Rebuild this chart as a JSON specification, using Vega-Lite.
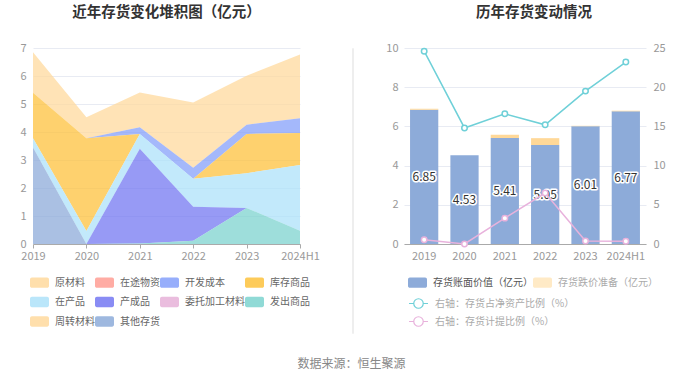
{
  "$schema": "https://vega.github.io/schema/vega-lite/v6.json",
  "background": "white",
  "padding": {"left": 8, "top": 4, "right": 5, "bottom": 5},
  "config": {"font": "Noto Sans CJK SC", "view": {"stroke": null}},
  "title": {"text": "数据来源：恒生聚源", "orient": "bottom", "anchor": "middle", "dx": 15, "fontSize": 12, "fontWeight": "normal", "color": "#888888", "offset": 25},
  "datasets": {
    "inv": [
      {"y": "2019", "s": "原材料", "v": 1.45}, {"y": "2020", "s": "原材料", "v": 0.75}, {"y": "2021", "s": "原材料", "v": 1.24}, {"y": "2022", "s": "原材料", "v": 2.33}, {"y": "2023", "s": "原材料", "v": 1.75}, {"y": "2024H1", "s": "原材料", "v": 2.28},
      {"y": "2019", "s": "开发成本", "v": 0}, {"y": "2020", "s": "开发成本", "v": 0}, {"y": "2021", "s": "开发成本", "v": 0.24}, {"y": "2022", "s": "开发成本", "v": 0.39}, {"y": "2023", "s": "开发成本", "v": 0.33}, {"y": "2024H1", "s": "开发成本", "v": 0.53},
      {"y": "2019", "s": "库存商品", "v": 1.62}, {"y": "2020", "s": "库存商品", "v": 3.32}, {"y": "2021", "s": "库存商品", "v": 0}, {"y": "2022", "s": "库存商品", "v": 0}, {"y": "2023", "s": "库存商品", "v": 1.40}, {"y": "2024H1", "s": "库存商品", "v": 1.14},
      {"y": "2019", "s": "在产品", "v": 0.33}, {"y": "2020", "s": "在产品", "v": 0.46}, {"y": "2021", "s": "在产品", "v": 0.53}, {"y": "2022", "s": "在产品", "v": 1.00}, {"y": "2023", "s": "在产品", "v": 1.24}, {"y": "2024H1", "s": "在产品", "v": 2.35},
      {"y": "2019", "s": "产成品", "v": 0}, {"y": "2020", "s": "产成品", "v": 0}, {"y": "2021", "s": "产成品", "v": 3.38}, {"y": "2022", "s": "产成品", "v": 1.21}, {"y": "2023", "s": "产成品", "v": 0}, {"y": "2024H1", "s": "产成品", "v": 0},
      {"y": "2019", "s": "发出商品", "v": 0}, {"y": "2020", "s": "发出商品", "v": 0}, {"y": "2021", "s": "发出商品", "v": 0.02}, {"y": "2022", "s": "发出商品", "v": 0.12}, {"y": "2023", "s": "发出商品", "v": 1.29}, {"y": "2024H1", "s": "发出商品", "v": 0.47},
      {"y": "2019", "s": "其他存货", "v": 3.45}, {"y": "2020", "s": "其他存货", "v": 0}, {"y": "2021", "s": "其他存货", "v": 0}, {"y": "2022", "s": "其他存货", "v": 0}, {"y": "2023", "s": "其他存货", "v": 0}, {"y": "2024H1", "s": "其他存货", "v": 0}
    ],
    "bars": [
      {"y": "2019", "s": "存货账面价值（亿元）", "v": 6.85}, {"y": "2020", "s": "存货账面价值（亿元）", "v": 4.53}, {"y": "2021", "s": "存货账面价值（亿元）", "v": 5.41}, {"y": "2022", "s": "存货账面价值（亿元）", "v": 5.05}, {"y": "2023", "s": "存货账面价值（亿元）", "v": 6.01}, {"y": "2024H1", "s": "存货账面价值（亿元）", "v": 6.77},
      {"y": "2019", "s": "存货跌价准备（亿元）", "v": 0.05}, {"y": "2020", "s": "存货跌价准备（亿元）", "v": 0}, {"y": "2021", "s": "存货跌价准备（亿元）", "v": 0.17}, {"y": "2022", "s": "存货跌价准备（亿元）", "v": 0.35}, {"y": "2023", "s": "存货跌价准备（亿元）", "v": 0.02}, {"y": "2024H1", "s": "存货跌价准备（亿元）", "v": 0.03}
    ],
    "ratio": [
      {"y": "2019", "s": "右轴：存货占净资产比例（%）", "v": 24.6}, {"y": "2020", "s": "右轴：存货占净资产比例（%）", "v": 14.8}, {"y": "2021", "s": "右轴：存货占净资产比例（%）", "v": 16.6}, {"y": "2022", "s": "右轴：存货占净资产比例（%）", "v": 15.2}, {"y": "2023", "s": "右轴：存货占净资产比例（%）", "v": 19.5}, {"y": "2024H1", "s": "右轴：存货占净资产比例（%）", "v": 23.2},
      {"y": "2019", "s": "右轴：存货计提比例（%）", "v": 0.55}, {"y": "2020", "s": "右轴：存货计提比例（%）", "v": 0}, {"y": "2021", "s": "右轴：存货计提比例（%）", "v": 3.3}, {"y": "2022", "s": "右轴：存货计提比例（%）", "v": 6.5}, {"y": "2023", "s": "右轴：存货计提比例（%）", "v": 0.38}, {"y": "2024H1", "s": "右轴：存货计提比例（%）", "v": 0.34}
    ]
  },
  "spacing": 31,
  "resolve": {"scale": {"color": "independent", "x": "independent", "y": "independent", "fill": "independent", "stroke": "independent"}, "legend": {"color": "independent"}},
  "hconcat": [
    {
      "width": 267, "height": 196,
      "title": {"text": "近年存货变化堆积图（亿元）", "frame": "group", "anchor": "middle", "offset": 22, "fontSize": 14.5, "fontWeight": "bold", "color": "#333333"},
      "data": {"name": "inv"},
      "transform": [{"calculate": "indexof(['原材料','在途物资','开发成本','库存商品','在产品','产成品','委托加工材料','发出商品','周转材料','其他存货'], datum.s)", "as": "o"}],
      "mark": {"type": "area", "opacity": 0.75, "interpolate": "linear"},
      "encoding": {
        "x": {"field": "y", "type": "ordinal", "scale": {"type": "point", "padding": 0},
              "axis": {"title": null, "labelAngle": 0, "labelColor": "#999999", "labelFontSize": 11, "domainColor": "#aaaaaa", "tickColor": "#aaaaaa", "tickSize": 4, "labelPadding": 2, "grid": false}},
        "y": {"field": "v", "type": "quantitative", "stack": "zero", "scale": {"domain": [0, 7], "nice": false},
              "axis": {"title": null, "values": [0, 1, 2, 3, 4, 5, 6, 7], "labelOverlap": false, "labelColor": "#999999", "labelFontSize": 11, "domain": false, "ticks": false, "labelPadding": 7, "gridColor": "#e8ebf3", "minExtent": 25, "maxExtent": 25}},
        "color": {"field": "s", "type": "nominal",
                  "scale": {"domain": ["原材料", "在途物资", "开发成本", "库存商品", "在产品", "产成品", "委托加工材料", "发出商品", "周转材料", "其他存货"],
                            "range": ["#ffd99e", "#ff9e94", "#85a0fa", "#fdc23d", "#aee2f9", "#7478f2", "#e6b2d8", "#7dd3cf", "#ffd99e", "#8dabd9"]},
                  "legend": {"orient": "none", "legendX": -3, "legendY": 225, "direction": "horizontal", "columns": 4, "title": null,
                             "symbolType": "M-0.8,-0.55H0.8A0.2,0.2,0,0,1,1,-0.35V0.35A0.2,0.2,0,0,1,0.8,0.55H-0.8A0.2,0.2,0,0,1,-1,0.35V-0.35A0.2,0.2,0,0,1,-0.8,-0.55Z",
                             "symbolSize": 361, "symbolOpacity": 0.85, "symbolStrokeWidth": 0, "labelFontSize": 10, "labelColor": "#666666", "labelOffset": 6, "columnPadding": -6, "rowPadding": 4.5, "padding": 0}},
        "order": {"field": "o", "type": "quantitative", "sort": "descending"}
      }
    },
    {
      "width": 1, "height": 285,
      "view": {"stroke": "#eeeeee", "strokeWidth": 1},
      "data": {"values": []},
      "mark": "point"
    },
    {
      "width": 242, "height": 196,
      "title": {"text": "历年存货变动情况", "frame": "group", "anchor": "middle", "offset": 22, "dx": 9, "fontSize": 14.5, "fontWeight": "bold", "color": "#333333"},
      "layer": [
        {
          "layer": [
            {
              "data": {"name": "bars"},
              "transform": [{"calculate": "datum.s === '存货账面价值（亿元）' ? 0 : 1", "as": "o"}],
              "mark": {"type": "bar"},
              "encoding": {
                "x": {"field": "y", "type": "nominal", "scale": {"paddingInner": 0.3, "paddingOuter": 0.15},
                      "axis": {"title": null, "labelAngle": 0, "labelColor": "#999999", "labelFontSize": 11, "domainColor": "#aaaaaa", "ticks": false, "labelPadding": 6, "grid": false}},
                "y": {"field": "v", "type": "quantitative", "stack": "zero", "scale": {"domain": [0, 10], "nice": false},
                      "axis": {"title": null, "values": [0, 2, 4, 6, 8, 10], "labelOverlap": false, "labelColor": "#999999", "labelFontSize": 11, "domain": false, "ticks": false, "labelPadding": 6, "gridColor": "#e8ebf3", "minExtent": 12, "maxExtent": 12}},
                "fill": {"field": "s", "type": "nominal",
                         "scale": {"domain": ["存货账面价值（亿元）", "存货跌价准备（亿元）"], "range": ["#8dabd9", "#ffd898"]},
                         "legend": {"orient": "none", "legendX": 4, "legendY": 225, "direction": "horizontal", "columns": 2, "title": null,
                                    "symbolType": "M-0.8,-0.55H0.8A0.2,0.2,0,0,1,1,-0.35V0.35A0.2,0.2,0,0,1,0.8,0.55H-0.8A0.2,0.2,0,0,1,-1,0.35V-0.35A0.2,0.2,0,0,1,-0.8,-0.55Z",
                                    "symbolSize": 361, "symbolStrokeWidth": 0, "labelFontSize": 10, "labelColor": "#666666", "labelOffset": 6, "columnPadding": -4, "rowPadding": 0, "padding": 0,
                                    "encode": {"symbols": {"update": {"opacity": {"signal": "datum.value === '存货账面价值（亿元）' ? 1 : 0.55"}}}, "labels": {"update": {"fill": {"signal": "datum.value === '存货账面价值（亿元）' ? '#555555' : '#aaaaaa'"}}}}}},
                "order": {"field": "o", "type": "quantitative"}
              }
            },
            {
              "data": {"name": "bars"},
              "transform": [{"filter": "datum.s === '存货账面价值（亿元）'"}, {"calculate": "datum.v / 2", "as": "mid"}],
              "mark": {"type": "text", "fontSize": 12, "fill": "white", "stroke": "white", "strokeWidth": 3, "strokeJoin": "round"},
              "encoding": {
                "x": {"field": "y", "type": "nominal"},
                "y": {"field": "mid", "type": "quantitative", "scale": {"domain": [0, 10], "nice": false},
                      "axis": {"title": null, "values": [0, 2, 4, 6, 8, 10], "labelOverlap": false, "labelColor": "#999999", "labelFontSize": 11, "domain": false, "ticks": false, "labelPadding": 6, "gridColor": "#e8ebf3", "minExtent": 12, "maxExtent": 12}},
                "text": {"field": "v", "type": "quantitative", "format": ".2f"}
              }
            },
            {
              "data": {"name": "bars"},
              "transform": [{"filter": "datum.s === '存货账面价值（亿元）'"}, {"calculate": "datum.v / 2", "as": "mid"}],
              "mark": {"type": "text", "fontSize": 12, "fill": "#333333"},
              "encoding": {
                "x": {"field": "y", "type": "nominal"},
                "y": {"field": "mid", "type": "quantitative", "scale": {"domain": [0, 10], "nice": false},
                      "axis": {"title": null, "values": [0, 2, 4, 6, 8, 10], "labelOverlap": false, "labelColor": "#999999", "labelFontSize": 11, "domain": false, "ticks": false, "labelPadding": 6, "gridColor": "#e8ebf3", "minExtent": 12, "maxExtent": 12}},
                "text": {"field": "v", "type": "quantitative", "format": ".2f"}
              }
            }
          ]
        },
        {
          "data": {"name": "ratio"},
          "layer": [
            {
              "mark": {"type": "line", "strokeWidth": 1.5},
              "encoding": {
                "x": {"field": "y", "type": "nominal"},
                "y": {"field": "v", "type": "quantitative", "scale": {"domain": [0, 25], "nice": false},
                      "axis": {"title": null, "orient": "right", "values": [0, 5, 10, 15, 20, 25], "labelOverlap": false, "labelColor": "#999999", "labelFontSize": 11, "domain": false, "ticks": false, "labelPadding": 7, "grid": false}},
                "stroke": {"field": "s", "type": "nominal",
                           "scale": {"domain": ["右轴：存货占净资产比例（%）", "右轴：存货计提比例（%）"], "range": ["#6fd0d8", "#e8b2dc"]},
                           "legend": {"orient": "none", "legendX": 4, "legendY": 245, "direction": "vertical", "columns": 1, "title": null,
                                      "symbolType": "M-1,0H-0.5A0.5,0.5,0,1,1,0.5,0A0.5,0.5,0,1,1,-0.5,0M0.5,0H1",
                                      "symbolSize": 361, "symbolStrokeWidth": 1.2, "symbolFillColor": "white", "symbolOpacity": 0.6, "labelFontSize": 10, "labelColor": "#aaaaaa", "labelOffset": 6, "rowPadding": 0, "padding": 0}}
              }
            },
            {
              "mark": {"type": "point", "filled": false, "fill": "white", "fillOpacity": 1, "size": 30, "strokeWidth": 1.5, "opacity": 1},
              "encoding": {
                "x": {"field": "y", "type": "nominal"},
                "y": {"field": "v", "type": "quantitative", "scale": {"domain": [0, 25], "nice": false},
                      "axis": {"title": null, "orient": "right", "values": [0, 5, 10, 15, 20, 25], "labelOverlap": false, "labelColor": "#999999", "labelFontSize": 11, "domain": false, "ticks": false, "labelPadding": 7, "grid": false}},
                "stroke": {"field": "s", "type": "nominal"}
              }
            }
          ]
        }
      ],
      "resolve": {"scale": {"y": "independent"}}
    }
  ]
}
